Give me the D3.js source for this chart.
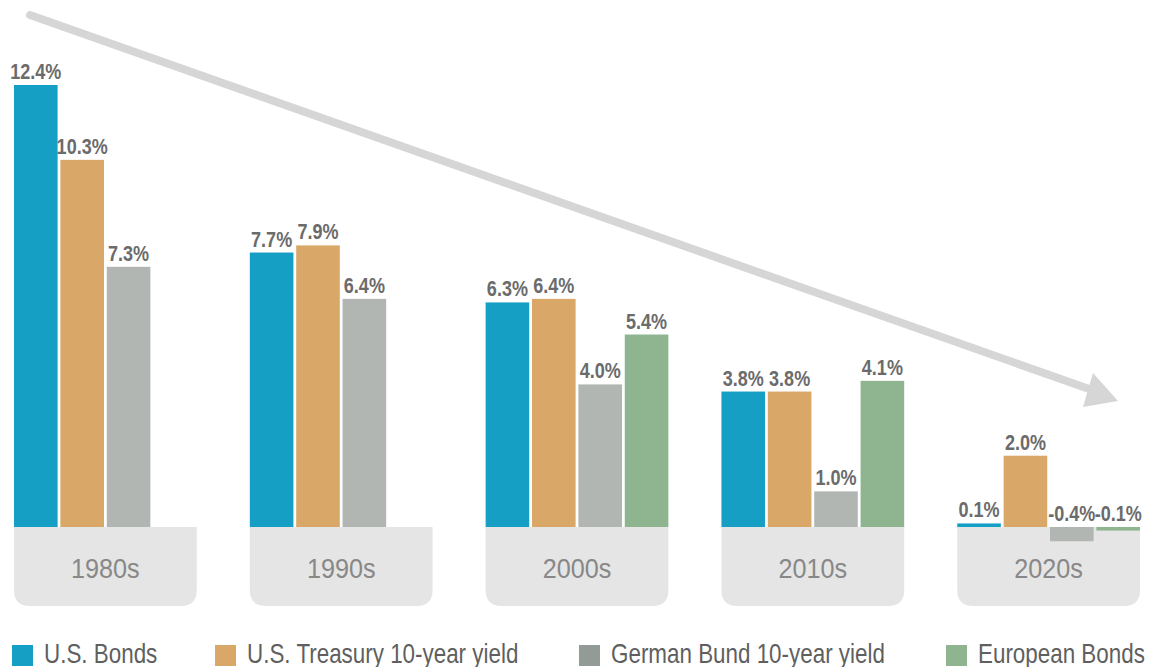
<!DOCTYPE html>
<html>
<head>
<meta charset="utf-8">
<script src="https://cdn.jsdelivr.net/npm/d3@7"></script>
<style>
  body { margin: 0; background: #fff; }
  svg text { font-family: "Liberation Sans", Arial, sans-serif; }
</style>
</head>
<body>
<div id="chart"></div>
<script>
// data
const decades = ["1980s", "1990s", "2000s", "2010s", "2020s"];
const seriesNames = ["U.S. Bonds", "U.S. Treasury 10-year yield", "German Bund 10-year yield", "European Bonds"];
const usBonds    = [12.4, 7.7, 6.3, 3.8, 0.1];
const usTreasury = [10.3, 7.9, 6.4, 3.8, 2.0];
const germanBund = [7.3, 6.4, 4.0, 1.0, -0.4];
const euroBonds  = [null, null, 5.4, 4.1, -0.1];
const seriesColors = ["#159fc4", "#d9a868", "#b2b6b3", "#8fb590"];
const legendColors = ["#159fc4", "#d9a868", "#929b96", "#8fb590"];

const W = 1149, H = 667;
const narrow = 0.82; // squeeze glyphs to mimic a condensed face
const seriesValues = [usBonds, usTreasury, germanBund, euroBonds];

const rows = [];
decades.forEach((dec, i) => {
  seriesNames.forEach((s, j) => {
    const v = seriesValues[j][i];
    if (v !== null) rows.push({decade: dec, series: s, value: v, color: seriesColors[j]});
  });
});

const svg = d3.select("#chart").append("svg")
  .attr("width", W)
  .attr("height", H);

const x0 = d3.scaleBand()
  .domain(decades)
  .range([14, 1140])
  .paddingInner(0.225)
  .paddingOuter(0);

const x1 = d3.scaleBand()
  .domain(seriesNames)
  .range([0, x0.bandwidth()])
  .paddingInner(0.06);

const y = d3.scaleLinear()
  .domain([0, 12.4])
  .range([527, 85]);

// decade boxes (rounded bottom)
const boxH = 79, r = 16;
const boxes = svg.append("g");
decades.forEach(dec => {
  const bx = x0(dec), bw = x0.bandwidth(), by = y(0);
  boxes.append("path")
    .attr("d", `M${bx},${by} H${bx + bw} V${by + boxH - r} Q${bx + bw},${by + boxH} ${bx + bw - r},${by + boxH} H${bx + r} Q${bx},${by + boxH} ${bx},${by + boxH - r} Z`)
    .attr("fill", "#e5e5e5");
  boxes.append("text")
    .attr("transform", `translate(${bx + bw / 2},${by + 51}) scale(0.9,1)`)
    .attr("text-anchor", "middle")
    .attr("font-size", 28)
    .attr("fill", "#888")
    .text(dec);
});

// arrow annotation
const arrow = svg.append("g");
arrow.append("line")
  .attr("x1", 30).attr("y1", 15)
  .attr("x2", 1092).attr("y2", 390)
  .attr("stroke", "#d6d6d6")
  .attr("stroke-width", 8)
  .attr("stroke-linecap", "round");
arrow.append("polygon")
  .attr("points", "1093,373 1118,401 1083,407")
  .attr("fill", "#d6d6d6");

// bars
svg.append("g").selectAll("rect")
  .data(rows)
  .join("rect")
    .attr("x", d => x0(d.decade) + x1(d.series))
    .attr("y", d => y(Math.max(0, d.value)))
    .attr("width", x1.bandwidth())
    .attr("height", d => Math.abs(y(d.value) - y(0)))
    .attr("fill", d => d.color);

// value labels
svg.append("g").selectAll("text")
  .data(rows)
  .join("text")
    .attr("transform", d => `translate(${x0(d.decade) + x1(d.series) + x1.bandwidth() / 2},${y(Math.max(0, d.value)) - 6}) scale(${narrow},1)`)
    .attr("text-anchor", "middle")
    .attr("font-size", 22)
    .attr("font-weight", "bold")
    .attr("fill", "#6b6b6b")
    .text(d => d.value.toFixed(1) + "%");

// legend
const legendX = [12, 215, 579, 946];
const legend = svg.append("g").attr("transform", "translate(0,645)");
seriesNames.forEach((s, j) => {
  const g = legend.append("g").attr("transform", `translate(${legendX[j]},0)`);
  g.append("rect").attr("width", 21).attr("height", 21).attr("fill", legendColors[j]);
  g.append("text")
    .attr("transform", `translate(32,18) scale(0.83,1)`)
    .attr("font-size", 27)
    .attr("fill", "#5f5f5f")
    .text(s);
});
</script>
</body>
</html>
